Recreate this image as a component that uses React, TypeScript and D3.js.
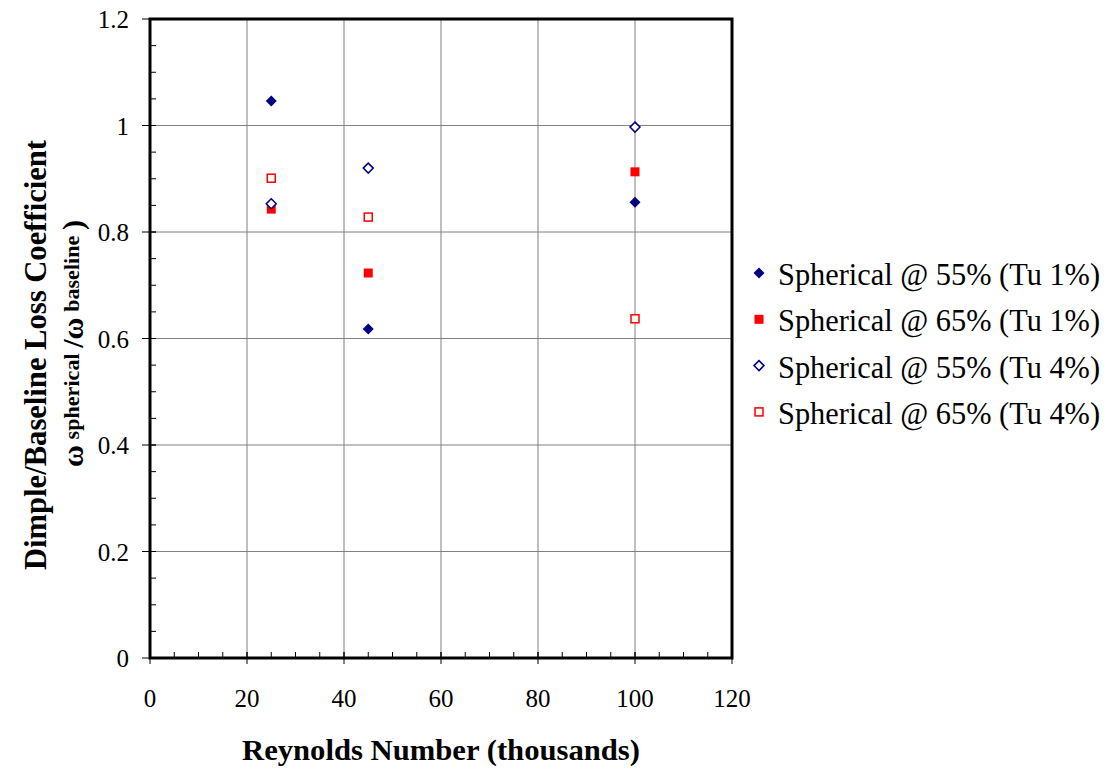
import React from "react";
import * as d3 from "d3";

const xValues = [25, 45, 100];
const s55Tu1 = [1.046, 0.618, 0.856];
const s65Tu1 = [0.843, 0.723, 0.913];
const s55Tu4 = [0.853, 0.92, 0.997];
const s65Tu4 = [0.901, 0.828, 0.637];

const seriesNames = [
  "Spherical @ 55% (Tu 1%)",
  "Spherical @ 65% (Tu 1%)",
  "Spherical @ 55% (Tu 4%)",
  "Spherical @ 65% (Tu 4%)",
];
const xTicks = [0, 20, 40, 60, 80, 100, 120];
const yTicks = [0, 0.2, 0.4, 0.6, 0.8, 1, 1.2];

const NAVY = "#000080";
const RED = "#FF0000";
const FONT = "'Liberation Serif', 'Times New Roman', serif";

type Marker = "diamondFill" | "squareFill" | "diamondOpen" | "squareOpen";

function MarkerShape({ kind, x, y }: { kind: Marker; x: number; y: number }) {
  if (kind === "diamondFill") {
    const r = 5.5;
    return <path d={`M${x},${y - r}L${x + r},${y}L${x},${y + r}L${x - r},${y}Z`} fill={NAVY} />;
  }
  if (kind === "diamondOpen") {
    const r = 5;
    return (
      <path d={`M${x},${y - r}L${x + r},${y}L${x},${y + r}L${x - r},${y}Z`} fill="white" stroke={NAVY} strokeWidth={1.5} />
    );
  }
  if (kind === "squareFill") {
    const h = 4.5;
    return <rect x={x - h} y={y - h} width={2 * h} height={2 * h} fill={RED} />;
  }
  const h = 4;
  return <rect x={x - h} y={y - h} width={2 * h} height={2 * h} fill="white" stroke={RED} strokeWidth={1.5} />;
}

export default function App() {
  const W = 1108;
  const H = 769;
  const left = 150;
  const right = 732;
  const top = 19;
  const bottom = 658;

  const x = d3.scaleLinear().domain([0, 120]).range([left, right]);
  const y = d3.scaleLinear().domain([0, 1.2]).range([bottom, top]);

  const xMinor = d3.range(0, 120.001, 5);
  const yMinor = d3.range(0, 1.2001, 0.05);

  const series: { vals: number[]; kind: Marker }[] = [
    { vals: s55Tu1, kind: "diamondFill" },
    { vals: s65Tu1, kind: "squareFill" },
    { vals: s55Tu4, kind: "diamondOpen" },
    { vals: s65Tu4, kind: "squareOpen" },
  ];

  return (
    <svg width={W} height={H} style={{ position: "absolute", left: 0, top: 0, background: "white" }} fontFamily={FONT}>
      <rect x={0} y={0} width={W} height={H} fill="white" />
      {/* grid */}
      {xTicks.slice(1, -1).map((t) => (
        <line key={"gx" + t} x1={x(t)} x2={x(t)} y1={top} y2={bottom} stroke="#808080" strokeWidth={1} />
      ))}
      {yTicks.slice(1, -1).map((t) => (
        <line key={"gy" + t} x1={left} x2={right} y1={y(t)} y2={y(t)} stroke="#808080" strokeWidth={1} />
      ))}
      {/* minor ticks (inside) */}
      {xMinor.map((t) => (
        <line key={"mx" + t} x1={x(t)} x2={x(t)} y1={bottom} y2={bottom - 6} stroke="black" strokeWidth={1} />
      ))}
      {yMinor.map((t) => (
        <line key={"my" + t} x1={left} x2={left + 6} y1={y(t)} y2={y(t)} stroke="black" strokeWidth={1} />
      ))}
      {/* major ticks (cross) */}
      {xTicks.map((t) => (
        <line key={"Mx" + t} x1={x(t)} x2={x(t)} y1={bottom - 6} y2={bottom + 6} stroke="black" strokeWidth={1} />
      ))}
      {yTicks.map((t) => (
        <line key={"My" + t} x1={left - 8} x2={left + 6} y1={y(t)} y2={y(t)} stroke="black" strokeWidth={1} />
      ))}
      {/* frame */}
      <rect x={left} y={top} width={right - left} height={bottom - top} fill="none" stroke="black" strokeWidth={3} />
      {/* tick labels */}
      {xTicks.map((t) => (
        <text key={"lx" + t} x={x(t)} y={707} textAnchor="middle" fontSize={25}>
          {t}
        </text>
      ))}
      {yTicks.map((t) => (
        <text key={"ly" + t} x={129} y={y(t) + 9} textAnchor="end" fontSize={25}>
          {String(t)}
        </text>
      ))}
      {/* data */}
      {series.map((s, si) =>
        xValues.map((xv, i) => (
          <MarkerShape key={`p${si}-${i}`} kind={s.kind} x={x(xv)} y={y(s.vals[i])} />
        ))
      )}
      {/* axis titles */}
      <text
        x={441}
        y={760}
        textAnchor="middle"
        fontSize={30}
        fontWeight="bold"
        textLength={398}
        lengthAdjust="spacingAndGlyphs"
      >
        Reynolds Number (thousands)
      </text>
      <text
        transform={`translate(46,355) rotate(-90)`}
        textAnchor="middle"
        fontSize={31}
        fontWeight="bold"
        textLength={430}
        lengthAdjust="spacingAndGlyphs"
      >
        Dimple/Baseline Loss Coefficient
      </text>
      <text
        transform={`translate(83,467) rotate(-90)`}
        textAnchor="start"
        fontWeight="bold"
        textLength={247}
        lengthAdjust="spacing"
      >
        <tspan fontSize={30}>ω</tspan>
        <tspan fontSize={22} dy={-4}> spherical </tspan>
        <tspan fontSize={30} dy={4}>/ω</tspan>
        <tspan fontSize={22} dy={-4}> baseline </tspan>
        <tspan fontSize={30} dy={4}>)</tspan>
      </text>
      {/* legend */}
      {seriesNames.map((name, i) => {
        const ly = 273 + i * 46.3;
        return (
          <g key={"lg" + i}>
            <MarkerShape kind={series[i].kind} x={759} y={ly} />
            <text x={778} y={ly + 12} fontSize={31} textLength={322} lengthAdjust="spacingAndGlyphs">
              {name}
            </text>
          </g>
        );
      })}
    </svg>
  );
}
